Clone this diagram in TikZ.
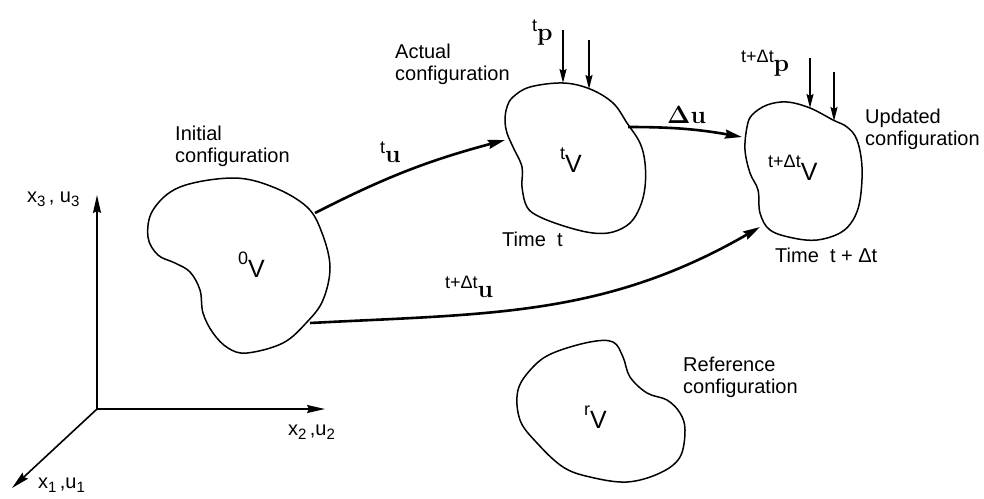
\documentclass[tikz,border=0pt]{standalone}
\usepackage[no-math]{fontspec}
\setmainfont{Liberation Sans}
\usepackage{tikz}
\usetikzlibrary{arrows.meta}

\newcommand{\lead}[1]{\raisebox{9pt}{\fontsize{18}{18}\selectfont #1}}
\newcommand{\bvec}[1]{{\fontsize{25}{25}\selectfont$\mathbf{#1}$}}
\newcommand{\vol}[1]{\raisebox{13pt}{\fontsize{18}{18}\selectfont #1}{\fontsize{25}{25}\selectfont V}}
\newcommand{\idx}[1]{\raisebox{-4pt}{\fontsize{15}{15}\selectfont #1}}

\begin{document}
\begin{tikzpicture}[x=1pt,y=-1pt,
  font=\fontsize{20}{22}\selectfont,
  body/.style={line width=1.5pt, line join=round},
  axis/.style={line width=1.6pt,-{Stealth[length=18pt,width=8pt,inset=2pt]}},
  motion/.style={line width=2.6pt,-{Stealth[length=17pt,width=9pt,inset=2pt]}},
  load/.style={line width=1.7pt,-{Stealth[length=14pt,width=7pt,inset=2pt]}},
  lab/.style={inner sep=0pt, align=left, anchor=north west},
  sym/.style={inner sep=0pt, anchor=base west}
]
\useasboundingbox (0,0) rectangle (984,498);

\coordinate (O) at (97,409);
\coordinate (x3end) at (97,195);
\coordinate (x2end) at (325,409);
\coordinate (x1end) at (12,488);
\draw[axis] (O) -- (x3end);
\draw[axis] (O) -- (x2end);
\draw[axis] (O) -- (x1end);
\node[sym] (x3lab) at (27,202) {x\idx{3}\,, u\idx{3}};
\node[sym] (x2lab) at (288,435) {x\idx{2}\,,u\idx{2}};
\node[sym] (x1lab) at (38,488) {x\idx{1}\,,u\idx{1}};

\draw[body] plot[smooth cycle, tension=0.6] coordinates {(233,178) (273,187) (307,207) (322,233) (330,267) (323,300) (307,322) (283,343) (247,353) (228,348) (213,333) (203,313) (200,290) (190,272) (175,263) (158,255) (148,237) (153,210) (180,187)};
\draw[body] plot[smooth cycle, tension=0.6] coordinates {(530,87) (563,83) (590,89) (613,103) (627,123) (640,143) (645,163) (645,187) (640,207) (630,223) (613,232) (593,233) (567,227) (540,217) (527,207) (522,187) (522,167) (513,147) (507,133) (505,120) (507,107) (513,97)};
\draw[body] plot[smooth cycle, tension=0.6] coordinates {(767,105) (787,102) (810,108) (833,120) (847,127) (857,140) (862,167) (860,200) (853,220) (840,233) (817,240) (793,238) (770,230) (760,213) (758,190) (750,173) (745,150) (747,127) (752,115)};
\draw[body] plot[smooth cycle, tension=0.6] coordinates {(553,353) (590,342) (613,342) (623,357) (630,377) (647,393) (667,400) (680,413) (685,430) (680,457) (660,473) (627,482) (590,477) (563,467) (537,443) (520,420) (518,390) (533,367)};

\node[sym] (v0) at (238,277) {\vol{0}};
\node[sym] (vt) at (560,172) {\vol{t}};
\node[sym] (vtd) at (768,180) {\vol{t+Δt}};
\node[sym] (vr) at (584,428) {\vol{r}};

\node[lab] (initial) at (175,126) {Initial\\configuration};
\node[lab] (actual) at (395,44) {Actual\\configuration};
\node[lab] (updated) at (865,109) {Updated\\configuration};
\node[lab] (reference) at (683,357) {Reference\\configuration};
\node[lab] (timet) at (502,232) {Time~~t};
\node[lab] (timetd) at (775,248) {Time~~t + Δt};

\coordinate (b0up) at (315,213);
\coordinate (b0low) at (310,323);
\coordinate (btin) at (505,140);
\coordinate (btout) at (628,127);
\coordinate (bdin) at (742,137);
\coordinate (bdlow) at (760,227);
\draw[motion] (b0up) to[out=27,in=195] (btin);
\draw[motion] (btout) to[out=0,in=170] (bdin);
\draw[motion] (b0low) to[out=3,in=210] (bdlow);
\node[sym] (tu) at (380,162) {\lead{t}\bvec{u}};
\node[sym] (du) at (667,123) {\bvec{\Delta u}};
\node[sym] (tdu) at (445,297) {\lead{t+Δt}\bvec{u}};

\coordinate (pt1) at (563,30);
\coordinate (pt2) at (589,40);
\coordinate (bt1) at (563,83);
\coordinate (bt2) at (589,89);
\coordinate (pd1) at (810,58);
\coordinate (pd2) at (834,72);
\coordinate (bd1) at (810,108);
\coordinate (bd2) at (834,121);
\draw[load] (pt1) -- (bt1);
\draw[load] (pt2) -- (bt2);
\draw[load] (pd1) -- (bd1);
\draw[load] (pd2) -- (bd2);
\node[sym] (tp) at (532,40) {\lead{t}\bvec{p}};
\node[sym] (tdp) at (741,71) {\lead{t+Δt}\bvec{p}};
\end{tikzpicture}
\end{document}
